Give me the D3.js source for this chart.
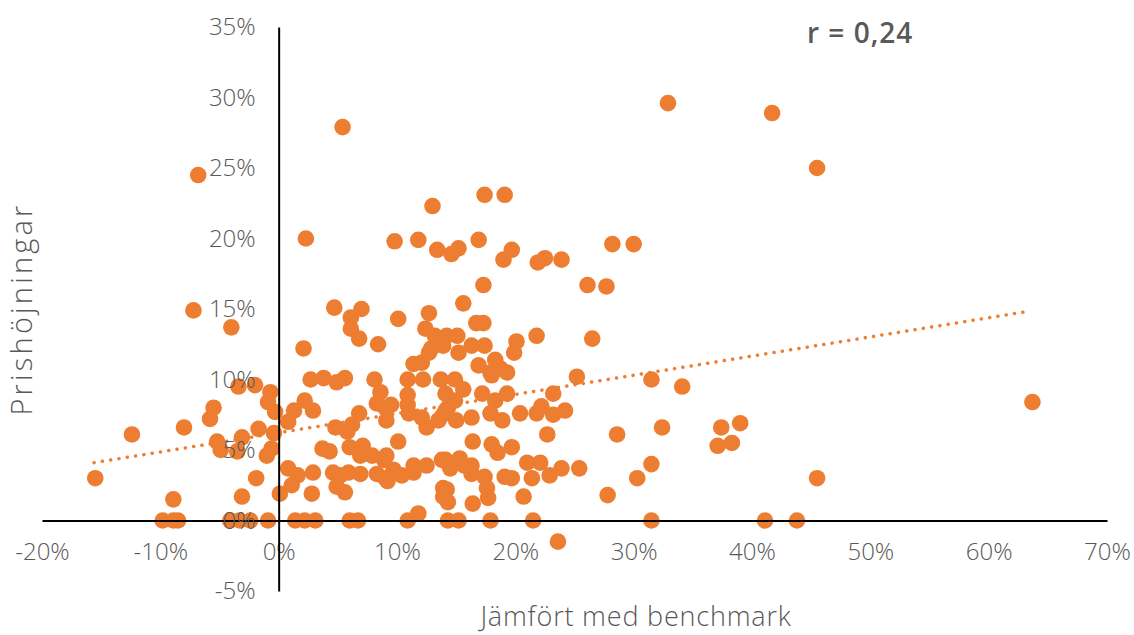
<!DOCTYPE html>
<html>
<head>
<meta charset="utf-8">
<script src="https://cdn.jsdelivr.net/npm/d3@7"></script>
<style>
  body { margin: 0; background: #fff; }
  svg { display: block; font-family: "Open Sans", Lato, sans-serif; }
  .axis text { fill: #595959; font-family: "Open Sans", Lato, sans-serif; font-size: 24px; font-weight: 300; }
  .axis path { stroke: #000; stroke-width: 2; }
  .title { fill: #595959; font-weight: 300; }
</style>
</head>
<body>
<svg id="chart" width="1134" height="635"></svg>
<script>
// percent values
const xVals = [
  -15.5, -12.4, -9.8, -8.9, -8.5, -8.9, -8.0, -7.2, -6.8, -5.8, -5.5, -5.2, -4.9, -4.0,
  -4.1, -3.3, -2.4, -0.9, -3.4, -2.0, -3.1, -3.5, -1.7, -1.9, -3.1, -0.7, -0.9, -0.3,
  -0.4, -0.6, -1.0,
  0.1, 0.8, 1.6, 1.1, 2.8, 2.9, 0.8, 1.3, 2.2, 2.9, 1.4, 2.2, 3.1, 6.0, 6.7, 2.3, 5.4,
  2.1, 4.7, 7.0, 6.1, 6.1, 6.8, 8.4, 10.1, 2.7, 3.8, 4.9, 5.6, 8.1, 8.6, 8.3, 9.0, 9.1,
  9.5, 4.8, 5.8, 6.2, 6.8, 3.7, 4.3, 6.0, 7.1, 7.9, 9.1, 6.9, 4.6, 5.2, 5.9, 6.9, 4.9,
  5.6, 8.3, 9.0, 9.7, 8.9, 9.2, 9.8,
  10.4, 11.4, 11.4, 12.5, 13.8, 13.9, 13.9, 14.3, 10.1, 10.9, 11.8, 14.3, 15.2, 17.9,
  11.8, 13.0, 17.4, 19.1, 13.4, 14.6, 15.2, 16.9, 19.0, 19.7, 17.3, 15.6, 12.7, 16.7,
  17.3, 12.4, 13.2, 14.2, 15.1, 13.9, 12.9, 15.2, 16.3, 17.4, 11.4, 12.1, 12.7, 16.9,
  18.3, 18.7, 19.3, 17.9, 18.0, 10.9, 12.2, 13.7, 14.9, 15.6, 14.1, 17.2, 18.3, 19.3,
  14.9, 14.3, 13.9, 15.0, 16.3, 17.9, 18.9, 10.9, 10.9, 11.0, 12.1, 12.5, 13.5, 14.1,
  16.4, 18.0, 18.5, 19.7, 14.1, 15.3, 16.3, 14.5, 16.3, 17.4, 19.1, 19.7, 17.6, 17.7,
  16.4, 14.2, 15.7,
  20.1, 19.9, 21.8, 26.5, 21.9, 22.5, 23.9, 28.2, 30.0, 26.1, 27.7, 25.2, 20.4, 21.8,
  22.2, 23.2, 24.2, 23.2, 22.7, 28.6, 21.0, 22.1, 21.4, 22.9, 23.9, 25.4, 20.7, 27.8,
  21.5, 23.6, 32.9, 41.7, 45.5, 31.5, 34.1, 63.7, 32.4, 37.4, 39.0, 37.1, 38.3, 31.5,
  30.3, 45.5, 31.5, 41.1, 43.8
];
const yVals = [
  3.0, 6.1, 0, 0, 0, 1.5, 6.6, 14.9, 24.5, 7.2, 8.0, 5.6, 5.0, 13.7,
  0, 0, 0, 0, 9.5, 9.6, 5.9, 4.9, 6.5, 3.0, 1.7, 9.1, 8.4, 7.7,
  6.2, 5.1, 4.6,
  1.9, 3.7, 3.2, 2.5, 1.9, 3.4, 7.0, 7.8, 8.5, 7.8, 0, 0, 0, 0, 0, 20.0, 27.9,
  12.2, 15.1, 15.0, 14.4, 13.6, 12.9, 12.5, 14.3, 10.0, 10.1, 9.8, 10.1, 10.0, 9.1, 8.3, 8.0, 7.1,
  8.2, 6.6, 6.3, 6.8, 7.6, 5.1, 4.9, 5.2, 5.3, 4.6, 4.6, 4.6, 3.4, 3.2, 3.4, 3.3, 2.4,
  2.0, 3.3, 3.0, 3.6, 4.3, 2.8, 19.8,
  3.2, 3.4, 3.9, 3.9, 4.3, 2.3, 1.7, 1.3, 5.6, 0, 0.5, 0, 0, 0,
  19.9, 22.3, 23.1, 23.1, 19.2, 18.9, 19.3, 19.9, 18.5, 19.2, 16.7, 15.4, 14.7, 14.0,
  14.0, 13.6, 13.1, 13.1, 13.1, 12.4, 12.2, 11.9, 12.4, 12.4, 11.1, 11.2, 11.9, 11.0,
  11.4, 10.8, 10.5, 10.5, 10.3, 10.0, 10.0, 10.0, 10.0, 9.3, 9.0, 9.0, 8.5, 9.0,
  8.5, 8.0, 7.5, 7.1, 7.3, 7.6, 7.1, 8.9, 8.2, 7.6, 7.3, 6.6, 7.1, 7.8,
  5.6, 5.4, 4.8, 5.2, 4.3, 4.4, 3.9, 3.7, 3.3, 3.1, 3.1, 3.0, 2.3, 1.6,
  1.2, 2.2, 3.9,
  12.7, 11.9, 13.1, 12.9, 18.3, 18.6, 18.5, 19.6, 19.6, 16.7, 16.6, 10.2, 7.6, 7.6,
  8.1, 7.5, 7.8, 9.0, 6.1, 6.1, 4.1, 4.1, 3.0, 3.2, 3.7, 3.7, 1.7, 1.8,
  0, -1.5, 29.6, 28.9, 25.0, 10.0, 9.5, 8.4, 6.6, 6.6, 6.9, 5.3, 5.5, 4.0,
  3.0, 3.0, 0, 0, 0
];
// dotted trend line, ends
const trendX = [-15.6, 63.1];
const trendY = [4.1, 14.8];
const xTicks = [-20, -10, 0, 10, 20, 30, 40, 50, 60, 70];
const yTicks = [-5, 0, 5, 10, 15, 20, 25, 30, 35];
const rLabel = "r = 0,24";

const points = xVals.map((x, i) => ({ x: x, y: yVals[i] }));

const svg = d3.select("#chart");
const x = d3.scaleLinear().domain([-20, 70]).range([42, 1107]);
const y = d3.scaleLinear().domain([-5, 35]).range([591, 27]);

// axes cross at zero
svg.append("g")
  .attr("class", "axis")
  .attr("transform", `translate(0,${y(0)})`)
  .call(d3.axisBottom(x).tickValues(xTicks).tickSize(0).tickPadding(22)
    .tickFormat(d => d + "%"));
svg.append("g")
  .attr("class", "axis")
  .attr("transform", `translate(${x(0)},0)`)
  .call(d3.axisLeft(y).tickValues(yTicks).tickSize(0).tickPadding(23)
    .tickFormat(d => d + "%"));

svg.append("g")
  .selectAll("circle")
  .data(points)
  .enter()
  .append("circle")
  .attr("cx", d => x(d.x))
  .attr("cy", d => y(d.y))
  .attr("r", 8.3)
  .attr("fill", "#ED7D31");

svg.append("path")
  .datum(trendX.map((v, i) => ({ x: v, y: trendY[i] })))
  .attr("fill", "none")
  .attr("stroke", "#ED7D31")
  .attr("stroke-width", 3.5)
  .attr("stroke-linecap", "round")
  .attr("stroke-dasharray", "0.1 8.3")
  .attr("d", d3.line().x(d => x(d.x)).y(d => y(d.y)));

// keep labels above the dots
svg.selectAll(".axis").raise();

svg.append("text")
  .attr("class", "title")
  .attr("x", 636)
  .attr("y", 626)
  .attr("font-size", 27)
  .attr("letter-spacing", 0.8)
  .attr("text-anchor", "middle")
  .text("Jämfört med benchmark");
svg.append("text")
  .attr("class", "title")
  .attr("transform", "translate(32,309) rotate(-90)")
  .attr("font-size", 29)
  .attr("letter-spacing", 3.2)
  .attr("text-anchor", "middle")
  .text("Prishöjningar");
svg.append("text")
  .attr("x", 807)
  .attr("y", 43)
  .attr("fill", "#595959")
  .attr("font-size", 28)
  .attr("font-weight", 600)
  .attr("letter-spacing", 1)
  .text(rLabel);
</script>
</body>
</html>
